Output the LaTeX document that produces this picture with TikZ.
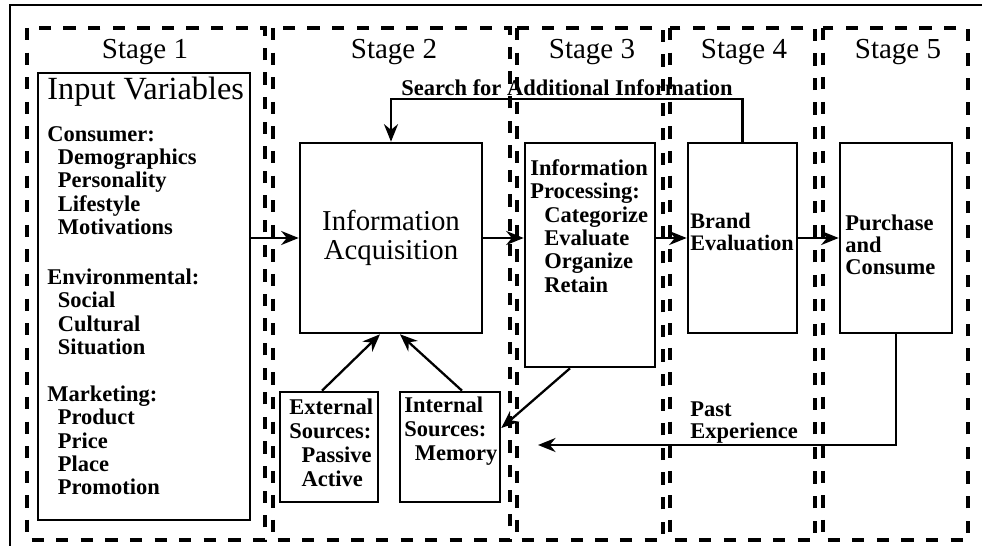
\documentclass[tikz,border=0pt]{standalone}
\usepackage{fontspec}
\setmainfont{Liberation Serif}
\usetikzlibrary{arrows.meta}

\tikzset{
  box/.style={draw, line width=1.5pt, inner sep=0pt},
  stagebox/.style={line width=1.8pt, dash pattern=on 7pt off 7pt},
  stagelbl/.style={font=\fontsize{16.5}{18}\selectfont},
  txt/.style={align=left, inner sep=0pt, anchor=west,
    font=\fontsize{12.8}{13.3}\selectfont\bfseries},
  arr/.style={line width=1.3pt, -{Stealth[length=10pt,width=8pt]}},
}
\newcommand{\ind}{\hspace*{6pt}}

\begin{document}
\begin{tikzpicture}[x=0.02cm, y=-0.02cm]
  \useasboundingbox (0,0) rectangle (982,546);
  \draw[line width=1.1pt] (982,5) -- (10,5) -- (10,546);

  % stages
  \foreach \l/\r in {27/265, 273/510, 517/663, 670/815, 823/968}
    \draw[stagebox] (\l,28) rectangle (\r,540);
  \foreach \x/\n in {145/1, 394/2, 592/3, 744/4, 898/5}
    \node[stagelbl] (st\n) at (\x,52) {Stage \n};

  % boxes
  \node[box, minimum width=4.24cm, minimum height=8.94cm] (invar) at (144,296.5) {};
  \node[box, minimum width=3.64cm, minimum height=3.8cm, align=center,
    font=\fontsize{16.4}{16.5}\selectfont] (acq) at (391,238) {Information\\Acquisition};
  \node[box, minimum width=2.6cm, minimum height=4.48cm] (proc) at (590,255) {};
  \node[box, minimum width=2.18cm, minimum height=3.8cm] (brand) at (742.5,238) {};
  \node[box, minimum width=2.24cm, minimum height=3.8cm] (purch) at (896,238) {};
  \node[box, minimum width=1.96cm, minimum height=2.2cm] (ext) at (329,447) {};
  \node[box, minimum width=2.0cm, minimum height=2.2cm] (int) at (450,447) {};

  % texts
  \node[anchor=west, inner sep=0pt, font=\fontsize{18.4}{20}\selectfont] (ivtitle) at (47,92) {Input Variables};
  \node[txt] (cons) at (47,180.5) {Consumer:\\\ind Demographics\\\ind Personality\\\ind Lifestyle\\\ind Motivations};
  \node[txt] (env) at (47,312) {Environmental:\\\ind Social\\\ind Cultural\\\ind Situation};
  \node[txt] (mkt) at (47,440.5) {Marketing:\\\ind Product\\\ind Price\\\ind Place\\\ind Promotion};
  \node[txt] (proctxt) at (530,226) {Information\\Processing:\\\hspace*{8pt}Categorize\\\hspace*{8pt}Evaluate\\\hspace*{8pt}Organize\\\hspace*{8pt}Retain};
  \node[txt, font=\fontsize{12.6}{12.5}\selectfont\bfseries] (brandtxt) at (690,232) {Brand\\Evaluation};
  \node[txt, font=\fontsize{12.8}{12.5}\selectfont\bfseries] (purchtxt) at (845,245) {Purchase\\and\\Consume};
  \node[txt, font=\fontsize{12.8}{13.6}\selectfont\bfseries] (exttxt) at (289,442.5) {External\\Sources:\\\hspace*{7pt}Passive\\\hspace*{7pt}Active};
  \node[txt, font=\fontsize{12.8}{13.6}\selectfont\bfseries] (inttxt) at (404,431) {Internal\\Sources:\\\ind Memory};
  \node[txt, font=\fontsize{12.8}{12}\selectfont\bfseries] (pasttxt) at (690,422.5) {Past\\Experience};
  \node[txt, anchor=center] (srchtxt) at (567,88) {Search for Additional Information};

  \coordinate (loop) at (391,99);
  \coordinate (pastend) at (538,445);
  \begin{scope}[arr]
    \draw (invar.east |- acq.west) to (acq.west);
    \draw (acq.east) to (acq.east -| proc.west);
    \draw (acq.east -| proc.east) to (brand.west);
    \draw (brand.east) to (purch.west);
    \draw (brand.north) |- (loop) -- (acq.north);
    \draw (purch.south) |- (pastend);
    \draw ([xshift=-0.4cm]proc.south) to ([yshift=0.38cm]int.east);
    \draw ([xshift=-0.14cm]ext.north) to ([xshift=-0.22cm]acq.south);
    \draw ([xshift=0.24cm]int.north) to ([xshift=0.18cm]acq.south);
  \end{scope}
\end{tikzpicture}
\end{document}
